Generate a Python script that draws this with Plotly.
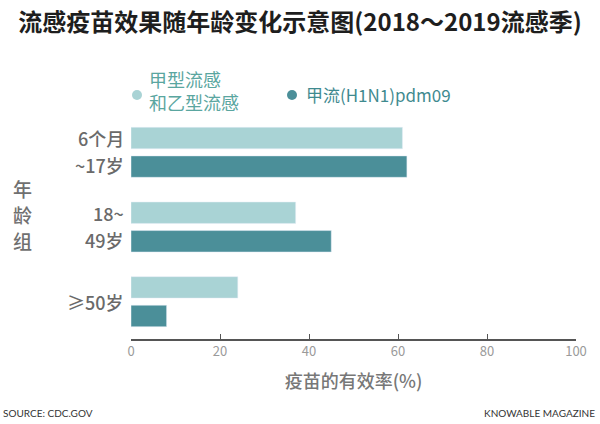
import plotly.graph_objects as go

categories = ["6个月~17岁", "18~49岁", "≥50岁"]
label_lines = [["6个月", "~17岁"], ["18~", "49岁"], ["≥50岁"]]
series_names = ["甲型流感<br>和乙型流感", "甲流(H1N1)pdm09"]
flu_ab = [61, 37, 24]
h1n1 = [62, 45, 8]
x_ticks = [0, 20, 40, 60, 80, 100]
y_title_chars = ["年", "龄", "组"]

LIGHT = "#a9d3d5"
DARK = "#4b8f99"
FONT = "Noto Sans CJK SC"

# plot area in pixels (for converting paper coordinates)
L, R, T, B = 131, 24, 115, 85
PW, PH = 600 - L - R, 424 - T - B


def px(xp):
    return (xp - L) / PW


def py(yp):
    return (424 - B - yp) / PH


fig = go.Figure()
fig.add_trace(go.Bar(y=categories, x=flu_ab, orientation="h", marker_color=LIGHT,
                     name=series_names[0], showlegend=False))
fig.add_trace(go.Bar(y=categories, x=h1n1, orientation="h", marker_color=DARK,
                     name=series_names[1], showlegend=False))

fig.update_layout(
    width=600, height=424,
    margin=dict(l=L, r=R, t=T, b=B, autoexpand=False),
    paper_bgcolor="white", plot_bgcolor="white",
    barmode="group", bargap=0.235, bargroupgap=0.25,
    font=dict(family=FONT),
    title=dict(text="流感疫苗效果随年龄变化示意图(2018～2019流感季)",
               x=0.5, xanchor="center", xref="container", y=1 - 23 / 424, yanchor="middle",
               font=dict(size=24, color="#1e1e1e", family=FONT, weight=600)),
)
fig.update_xaxes(range=[0, 100], tickvals=x_ticks, showgrid=False, zeroline=False,
                 showline=True, linecolor="#555", linewidth=1.5,
                 ticks="inside", ticklen=5, tickcolor="#555",
                 tickfont=dict(size=13, color="#9a9a9a"),
                 title=dict(text="疫苗的有效率(%)",
                            font=dict(size=18, color="#777777", weight=500), standoff=16))
fig.update_yaxes(autorange=False, range=[2.5, -0.5], showticklabels=False, showgrid=False,
                 zeroline=False, showline=False, ticks="")

# y category labels
for cat, lines in zip(categories, label_lines):
    shifts = [14, -13] if len(lines) == 2 else [0]
    for ln, s in zip(lines, shifts):
        fig.add_annotation(x=0, xref="paper", y=cat, yref="y", yshift=s, xshift=-5,
                           text=ln, showarrow=False, xanchor="right", yanchor="middle",
                           font=dict(size=18, color="#6a6a6a", family=FONT, weight=500))

# y axis title (stacked characters)
for i, ch in enumerate(y_title_chars):
    fig.add_annotation(x=px(22), xref="paper", y=py(188 + 26 * i), yref="paper", text=ch,
                       showarrow=False, xanchor="center", yanchor="middle", borderpad=0,
                       font=dict(size=19, color="#707070", family=FONT, weight=500))

# legend (manual)
fig.add_shape(type="circle", xref="paper", yref="paper", xsizemode="pixel", ysizemode="pixel",
              xanchor=px(137), yanchor=py(95), x0=-5, x1=5, y0=-5, y1=5,
              fillcolor=LIGHT, line=dict(width=0))
fig.add_annotation(x=px(147), xref="paper", y=py(91), yref="paper", text=series_names[0],
                   showarrow=False, xanchor="left", yanchor="middle", align="left",
                   font=dict(size=18, color="#5aa6a0", family=FONT))
fig.add_shape(type="circle", xref="paper", yref="paper", xsizemode="pixel", ysizemode="pixel",
              xanchor=px(292), yanchor=py(95), x0=-5, x1=5, y0=-5, y1=5,
              fillcolor=DARK, line=dict(width=0))
fig.add_annotation(x=px(304), xref="paper", y=py(94), yref="paper", text=series_names[1],
                   showarrow=False, xanchor="left", yanchor="middle",
                   font=dict(size=17, color="#3f8a8f", family=FONT))

# footer
fig.add_annotation(x=px(1), xref="paper", y=py(413), yref="paper", text="SOURCE: CDC.GOV",
                   showarrow=False, xanchor="left", yanchor="middle",
                   font=dict(size=10, color="#333", family="Lato"))
fig.add_annotation(x=px(597), xref="paper", y=py(413), yref="paper", text="KNOWABLE MAGAZINE",
                   showarrow=False, xanchor="right", yanchor="middle",
                   font=dict(size=10, color="#333", family="Lato"))

fig.write_html("out.html", config={"displayModeBar": False},
               post_script="document.body.style.margin='0';document.body.style.overflow='hidden';")
